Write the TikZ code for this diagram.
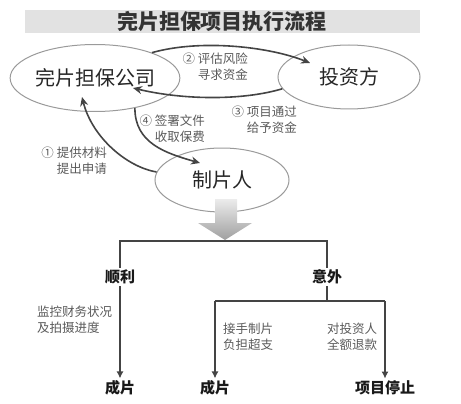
\documentclass[tikz,border=0pt]{standalone}
\usepackage{fontspec}
\usetikzlibrary{shapes.geometric,arrows.meta,calc}
\newfontfamily\cjk{Noto Sans CJK SC}
\definecolor{linegray}{HTML}{444444}
\definecolor{textgray}{HTML}{5A5A5A}
\definecolor{rimgray}{HTML}{9A9A9A}
\definecolor{bandgray}{HTML}{E2E2E2}
\tikzstyle{party}=[ellipse,draw=rimgray,line width=1pt,inner sep=0pt,
                   font=\cjk\fontsize{20pt}{24pt}\selectfont,text=black!85]
\tikzstyle{note}=[inner sep=0pt,text=textgray,
                  font=\cjk\fontsize{12.5pt}{16pt}\selectfont]
\tikzstyle{flow}=[draw=linegray,line width=1.6pt,
                  -{Stealth[length=9pt,width=8pt]}]
\tikzstyle{branch}=[draw=linegray,line width=1.2pt]
\tikzstyle{outcome}=[inner sep=2pt,text=black!90,
                     font=\cjk\bfseries\fontsize{15pt}{18pt}\selectfont]

\begin{document}
\begin{tikzpicture}[x=1pt,y=-1pt]
    \useasboundingbox (0,0) rectangle (461,404);
    \fill[bandgray] (25,10) rectangle (420,33);
    \node (title) at (222,21.5) [text=black!80,
      font=\cjk\bfseries\fontsize{21pt}{24pt}\selectfont]{完片担保项目执行流程};
    \node (co)  at (95,78)  [party,minimum width=140pt,minimum height=67pt]{完片担保公司};
    \node (inv) at (349,77) [party,minimum width=142pt,minimum height=64pt]{投资方};
    \node (pro) at (222,180) [party,minimum width=134pt,minimum height=64pt]{制片人};
    \draw[flow] (co.24) .. controls +(50,-14) and +(-40,-16) .. ($(inv)+(-39,-14)$);
    \draw[flow] (inv.190) .. controls +(-40,12) and +(50,12) .. ($(co)+(38,10)$);
    \draw[flow] (pro.173) .. controls +(-30,-5) and +(10,40) .. ($(co)+(-13,19)$);
    \draw[flow] (co.323) .. controls +(0,35) and +(-35,-10) .. ($(pro)+(-22,-17)$);
    \node (n2) at (248,67)  [note,anchor=east,align=right]{② 评估风险\\寻求资金};
    \node (n3) at (297,120) [note,anchor=east,align=right]{③ 项目通过\\给予资金};
    \node (n4) at (205,129) [note,anchor=east,align=right]{④ 签署文件\\收取保费};
    \node (n1) at (107,161) [note,anchor=east,align=right]{① 提供材料\\提出申请};
    % big arrow down to the outcomes
    \shade[top color=gray!15,bottom color=gray!75] (215,199) -- (237,199) -- (237,223)
      -- (252,223) -- (225,240) -- (198,223) -- (215,223) -- cycle;
    \coordinate (tip) at (225,241);
    \coordinate (fork) at (300,301);
    \node (ok)   at (120,277) [outcome]{顺利};
    \node (bad)  at (327,277) [outcome]{意外};
    \node (f1)   at (120,388) [outcome]{成片};
    \node (f2)   at (215,388) [outcome]{成片};
    \node (halt) at (385,388) [outcome]{项目停止};
    \draw[branch] (ok) -- (ok |- tip) -- (bad |- tip) -- (bad);
    \draw[branch] (bad) -- (bad |- fork);
    \draw[branch] (f2 |- fork) -- (halt |- fork);
    \draw[branch,-{Latex[length=7pt,width=7pt]}] (ok) -- (f1);
    \draw[branch,-{Latex[length=7pt,width=7pt]}] (f2 |- fork) -- (f2);
    \draw[branch,-{Latex[length=7pt,width=7pt]}] (halt |- fork) -- (halt);
    \node (n5) at (37,320)  [note,anchor=west,align=left]{监控财务状况\\及拍摄进度};
    \node (n6) at (223,337) [note,anchor=west,align=left]{接手制片\\负担超支};
    \node (n7) at (327,337) [note,anchor=west,align=left]{对投资人\\全额退款};
\end{tikzpicture}
\end{document}
